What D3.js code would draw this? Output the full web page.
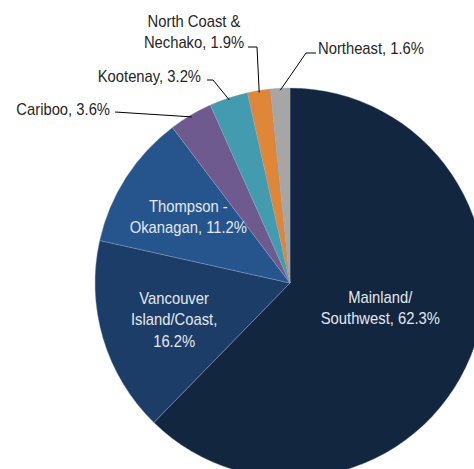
<!DOCTYPE html>
<html>
<head>
<meta charset="utf-8">
<script src="https://cdn.jsdelivr.net/npm/d3@7"></script>
<style>
  body { margin: 0; background: #fff; }
  svg text { font-family: "Liberation Sans Narrow", "Arial Narrow", "Liberation Sans", sans-serif; font-size: 17px; }
</style>
</head>
<body>
<div id="chart"></div>
<script>
// regions, clockwise from 12 o'clock
const regions = ["Mainland/Southwest", "Vancouver Island/Coast", "Thompson - Okanagan", "Cariboo", "Kootenay", "North Coast & Nechako", "Northeast"];
const shares = [62.3, 16.2, 11.2, 3.6, 3.2, 1.9, 1.6];
const colors = ["#12263f", "#1d3d69", "#26558e", "#6e5a8e", "#439bb0", "#df8639", "#a6a6a6"];
// label text lines
const labelLines = [
    ["Mainland/", "Southwest, 62.3%"],
    ["Vancouver", "Island/Coast,", "16.2%"],
    ["Thompson -", "Okanagan, 11.2%"],
    ["Cariboo, 3.6%"],
    ["Kootenay, 3.2%"],
    ["North Coast &", "Nechako, 1.9%"],
    ["Northeast, 1.6%"]
];

const width = 474, height = 469;
const cx = 290, cy = 283, radius = 195;
const squeeze = 0.87; // narrow font look

const svg = d3.select("#chart").append("svg")
    .attr("width", width)
    .attr("height", height);

const g = svg.append("g").attr("transform", `translate(${cx},${cy})`);

const data = regions.map((r, i) => ({region: r, value: shares[i], lines: labelLines[i], color: colors[i]}));

const pie = d3.pie().value(d => d.value).sort(null);
const arc = d3.arc().innerRadius(0).outerRadius(radius);
const arcs = pie(data);

g.selectAll("path.slice")
    .data(arcs)
    .enter().append("path")
    .attr("class", "slice")
    .attr("d", arc)
    .attr("fill", d => d.data.color)
    .attr("stroke", "#8ea3c0")
    .attr("stroke-width", 0.4);

function addText(parent, x, y, lines, anchor, lh, fill) {
    const t = parent.append("text")
        .attr("transform", `translate(${x},${y}) scale(${squeeze},1)`)
        .attr("text-anchor", anchor)
        .attr("fill", fill);
    lines.forEach((ln, k) => {
        t.append("tspan").attr("x", 0).attr("y", k * lh).text(ln);
    });
    return t;
}

// inside labels: [radius factor, y shift]
const inside = {0: [0.5, -12], 1: [0.62, 2], 2: [0.62, -1]};
const lineH = 21.5;

arcs.forEach((d, i) => {
    if (!inside[i]) return;
    const mid = (d.startAngle + d.endAngle) / 2;
    const rr = radius * inside[i][0];
    const x = Math.sin(mid) * rr;
    const y = -Math.cos(mid) * rr + inside[i][1];
    const n = d.data.lines.length;
    addText(g, x, y + 6 - (n - 1) / 2 * lineH, d.data.lines, "middle", lineH, "#e3e8ef");
});

// outside labels: text position and elbow (relative to centre)
const outside = {
    3: {tx: 110, ty: 115, elbow: [[-175, -171]], anchor: "end"},
    4: {tx: 201, ty: 82, elbow: [[-83, -203], [-77, -203]], anchor: "end"},
    5: {tx: 194, ty: 27, elbow: [[-42, -236], [-33, -236]], anchor: "middle"},
    6: {tx: 318, ty: 54, elbow: [[26, -230], [16, -230]], anchor: "start"}
};

arcs.forEach((d, i) => {
    const o = outside[i];
    if (!o) return;
    const mid = (d.startAngle + d.endAngle) / 2;
    const ax = Math.sin(mid) * (radius - 2);
    const ay = -Math.cos(mid) * (radius - 2);
    const pts = o.elbow.concat([[ax, ay]]);
    g.append("path")
        .attr("d", d3.line()(pts))
        .attr("fill", "none")
        .attr("stroke", "#000")
        .attr("stroke-width", 1);
    addText(svg, o.tx, o.ty, d.data.lines, o.anchor, 21, "#262626");
});
</script>
</body>
</html>
